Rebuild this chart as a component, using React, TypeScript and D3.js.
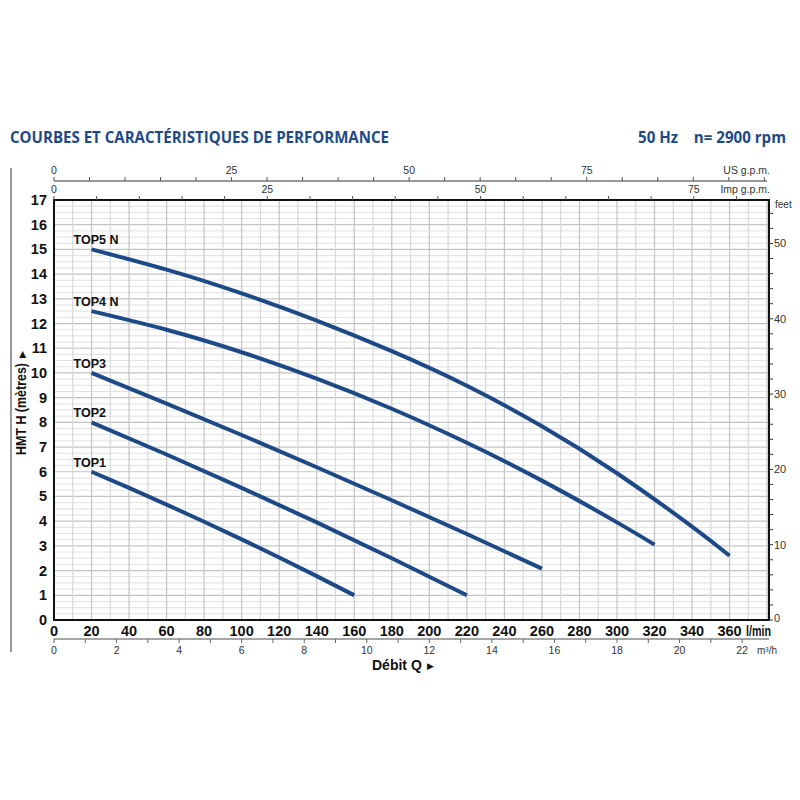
import React from "react";
import * as d3 from "d3";

// ---- data (flow in l/min, head in metres) ----
const flowTicks = [0, 20, 40, 60, 80, 100, 120, 140, 160, 180, 200, 220, 240, 260, 280, 300, 320, 340, 360];
const headTicks = [0, 1, 2, 3, 4, 5, 6, 7, 8, 9, 10, 11, 12, 13, 14, 15, 16, 17];
const usGpmLabels = [0, 25, 50, 75];
const impGpmLabels = [0, 25, 50, 75];
const m3hLabels = [0, 2, 4, 6, 8, 10, 12, 14, 16, 18, 20, 22];
const feetLabels = [0, 10, 20, 30, 40, 50];

const TOP1: [number, number][] = [[20, 6], [40, 5.346], [60, 4.672], [80, 3.978], [100, 3.264], [120, 2.53], [140, 1.776], [160, 1.0]];
const TOP2: [number, number][] = [[20, 8], [60, 6.7], [100, 5.35], [140, 3.95], [180, 2.5], [220, 1.0]];
const TOP3: [number, number][] = [[20, 10], [60, 8.76], [100, 7.488], [140, 6.184], [180, 4.848], [220, 3.48], [260, 2.08]];
const TOP4N: [number, number][] = [[20, 12.5], [60, 11.746], [100, 10.837], [140, 9.771], [180, 8.55], [220, 7.173], [260, 5.641], [300, 3.952], [320, 3.05]];
const TOP5N: [number, number][] = [[20, 15.0], [60, 14.18], [100, 13.22], [140, 12.12], [180, 10.88], [220, 9.48], [260, 7.84], [300, 5.94], [340, 3.78], [360, 2.6]];

const curveNames = ["TOP1", "TOP2", "TOP3", "TOP4 N", "TOP5 N"];
const curves = [TOP1, TOP2, TOP3, TOP4N, TOP5N];

// unit conversions
const L_PER_USGPM = 3.785;
const L_PER_IMPGPM = 4.546;
const L_PER_M3H = 16.667;
const FT_PER_M = 3.2808;

const NAVY = "#1d4a87";
const narrow = "'Liberation Sans Narrow', 'Arial Narrow', 'Liberation Sans', Arial, sans-serif";
const sans = "'Liberation Sans', Arial, sans-serif";

export default function App() {
  const left = 54, right = 769, top = 200, bottom = 620;
  const qMax = 381;
  const x = d3.scaleLinear().domain([0, qMax]).range([left, right]);
  const y = d3.scaleLinear().domain([0, 17]).range([bottom, top]);
  const xUS = d3.scaleLinear().domain([0, qMax / L_PER_USGPM]).range([left, right]);
  const xImp = d3.scaleLinear().domain([0, qMax / L_PER_IMPGPM]).range([left, right]);
  const xM3 = d3.scaleLinear().domain([0, qMax / L_PER_M3H]).range([left, right]);
  const yFt = d3.scaleLinear().domain([0, 17 * FT_PER_M]).range([bottom, top]);

  const line = d3.line<[number, number]>().x((d) => x(d[0])).y((d) => y(d[1])).curve(d3.curveNatural);

  const vGrid = d3.range(10, qMax, 10);
  const hGrid = d3.range(0.25, 17, 0.25);
  const usTicks = d3.range(0, 101, 5);
  const impTicks = d3.range(0, 81, 5);
  const m3Ticks = d3.range(0, 23, 1);
  const ftTicks = d3.range(0, 56, 2);

  return (
    <svg width={800} height={800} style={{ position: "absolute", left: 0, top: 0, background: "#fff" }}>
      {/* titles */}
      <text x={10} y={143} fill={NAVY} fontFamily="'Open Sans', sans-serif" fontWeight={700} fontSize={16.5} textLength={379} lengthAdjust="spacingAndGlyphs">
        COURBES ET CARACTÉRISTIQUES DE PERFORMANCE
      </text>
      <text x={638} y={143} fill={NAVY} fontFamily="'Open Sans', sans-serif" fontWeight={700} fontSize={16.5} textLength={148} lengthAdjust="spacingAndGlyphs" style={{ whiteSpace: "pre" }}>
        50 Hz    n= 2900 rpm
      </text>

      {/* left frame line */}
      <line x1={11} x2={11} y1={168} y2={652} stroke="#333" strokeWidth={1} />

      {/* grid */}
      {hGrid.map((h) => {
        const major = Math.abs(h - Math.round(h)) < 1e-6;
        return <line key={"h" + h} x1={left} x2={right} y1={y(h)} y2={y(h)} stroke={major ? "#c4c4c4" : "#dedede"} strokeWidth={major ? 1.2 : 0.9} />;
      })}
      {vGrid.map((q) => (
        <line key={"v" + q} x1={x(q)} x2={x(q)} y1={top} y2={bottom} stroke={q % 20 === 0 ? "#c4c4c4" : "#d8d8d8"} strokeWidth={1.2} />
      ))}

      {/* plot frame */}
      <rect x={left} y={top} width={right - left} height={bottom - top} fill="none" stroke="#111" strokeWidth={2} />

      {/* curves */}
      {curves.map((c, i) => (
        <g key={curveNames[i]}>
          <path d={line(c) || ""} fill="none" stroke={NAVY} strokeWidth={4} strokeLinecap="butt" />
          <text x={x(c[0][0]) - 18} y={y(c[0][1]) - 5} fontFamily={narrow} fontWeight={700} fontSize={12.5} fill="#111">
            {curveNames[i]}
          </text>
        </g>
      ))}

      {/* left axis labels */}
      {headTicks.map((h) => (
        <text key={"yl" + h} x={47} y={y(h) + 5} textAnchor="end" fontFamily={narrow} fontWeight={700} fontSize={14.5} fill="#111">
          {h}
        </text>
      ))}
      <g transform="translate(26,409) rotate(-90)">
        <text x={0} y={0} textAnchor="middle" fontFamily={narrow} fontWeight={700} fontSize={14} textLength={92} lengthAdjust="spacingAndGlyphs" fill="#111">
          HMT H (mètres)
        </text>
        <text x={51} y={-1} fontFamily={sans} fontSize={9} fill="#111">▶</text>
      </g>

      {/* bottom l/min labels */}
      {flowTicks.map((q) => (
        <text key={"xl" + q} x={x(q)} y={636} textAnchor="middle" fontFamily={narrow} fontWeight={700} fontSize={14.5} fill="#111">
          {q}
        </text>
      ))}
      <text x={746} y={636} fontFamily={narrow} fontWeight={700} fontSize={14.5} textLength={25} lengthAdjust="spacingAndGlyphs" fill="#111">l/min</text>

      {/* m3/h axis */}
      <line x1={left} x2={right} y1={639} y2={639} stroke="#888" strokeWidth={1.3} />
      {m3Ticks.map((m) => (
        <line key={"mt" + m} x1={xM3(m)} x2={xM3(m)} y1={639} y2={643} stroke="#666" strokeWidth={1} />
      ))}
      {m3hLabels.map((m) => (
        <text key={"ml" + m} x={xM3(m)} y={654} textAnchor="middle" fontFamily={narrow} fontSize={10.5} fill="#333">
          {m}
        </text>
      ))}
      <text x={757} y={654} fontFamily={narrow} fontSize={10} fill="#333">m³/h</text>
      <text x={372} y={670} fontFamily={sans} fontWeight={700} fontSize={14} fill="#111">Débit Q</text>
      <text x={427} y={669} fontFamily={sans} fontSize={9} fill="#111">▶</text>

      {/* US gpm axis */}
      <line x1={left} x2={767} y1={181} y2={181} stroke="#999" strokeWidth={1.8} />
      {usTicks.map((u) => (
        <line key={"ut" + u} x1={xUS(u)} x2={xUS(u)} y1={177} y2={181} stroke="#555" strokeWidth={1} />
      ))}
      {usGpmLabels.map((u) => (
        <text key={"ul" + u} x={xUS(u)} y={174} textAnchor="middle" fontFamily={narrow} fontSize={10.5} fill="#333">
          {u}
        </text>
      ))}
      <text x={770} y={174} textAnchor="end" fontFamily={narrow} fontSize={10.5} fill="#333">US g.p.m.</text>

      {/* Imp gpm axis */}
      {impTicks.map((u) => (
        <line key={"it" + u} x1={xImp(u)} x2={xImp(u)} y1={196} y2={200} stroke="#555" strokeWidth={1} />
      ))}
      {impGpmLabels.map((u) => (
        <text key={"il" + u} x={xImp(u)} y={193} textAnchor="middle" fontFamily={narrow} fontSize={10.5} fill="#333">
          {u}
        </text>
      ))}
      <text x={770} y={193} textAnchor="end" fontFamily={narrow} fontSize={10.5} fill="#333">Imp g.p.m.</text>

      {/* feet axis */}
      {ftTicks.map((f) => (
        <line key={"ft" + f} x1={right} x2={right + 4} y1={yFt(f)} y2={yFt(f)} stroke="#333" strokeWidth={1} />
      ))}
      {feetLabels.map((f) => (
        <text key={"fl" + f} x={right + 5} y={yFt(f) + (f === 0 ? 2 : 4)} fontFamily={narrow} fontSize={11} fill="#333">
          {f}
        </text>
      ))}
      <text x={775} y={208} fontFamily={narrow} fontSize={10} fill="#333">feet</text>
    </svg>
  );
}
